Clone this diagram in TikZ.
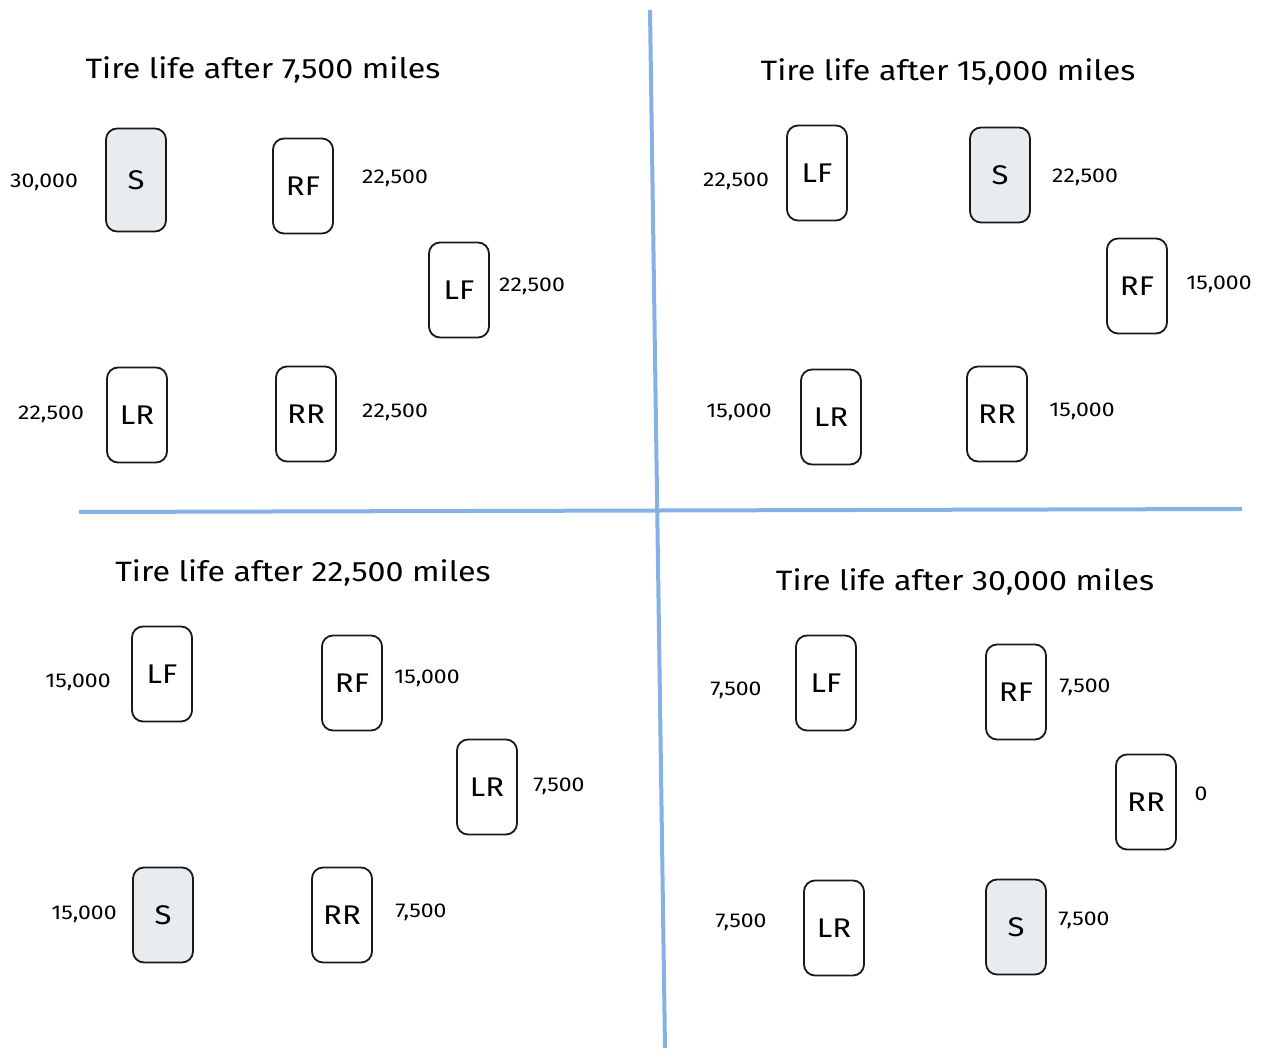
\documentclass[tikz,border=0pt]{standalone}
\usepackage{fontspec}
\setmainfont{Fira Sans}[FakeStretch=1.15]
\definecolor{divblue}{RGB}{133,178,226}
\definecolor{sparegray}{RGB}{233,236,239}
\begin{document}
\begin{tikzpicture}[x=1pt,y=-1pt,
  tire/.style={draw=black!90, line width=1.8pt, rounded corners=11pt, minimum width=60pt, minimum height=95pt, inner sep=0pt, font=\fontsize{27}{30}\selectfont},
  spare/.style={tire, fill=sparegray},
  miles/.style={font=\fontsize{20}{24}\selectfont, inner sep=0pt},
  title/.style={font=\fontsize{28}{32}\selectfont, inner sep=0pt},
  divider/.style={draw=divblue, line width=4pt}]
\useasboundingbox (0,0) rectangle (1262,1059);
% Quadrant 1
\node[title] (t1) at (263,70) {Tire life after 7,500 miles};
\node[spare, minimum height=103pt] (s1) at (136,180) {S};
\node[tire] (rf1) at (303,186) {RF};
\node[tire] (lf1) at (459,290) {LF};
\node[tire] (lr1) at (137,415) {LR};
\node[tire] (rr1) at (306,414) {RR};
\node[miles] (ms1) at (44,182) {30,000};
\node[miles] (mrf1) at (395,178) {22,500};
\node[miles] (mlf1) at (532,286) {22,500};
\node[miles] (mlr1) at (51,414) {22,500};
\node[miles] (mrr1) at (395,412) {22,500};
% Quadrant 2
\node[title] (t2) at (948,72) {Tire life after 15,000 miles};
\node[tire] (lf2) at (817,173) {LF};
\node[spare] (s2) at (1000,175) {S};
\node[tire] (rf2) at (1137,286) {RF};
\node[tire] (lr2) at (831,417) {LR};
\node[tire] (rr2) at (997,414) {RR};
\node[miles] (mlf2) at (736,181) {22,500};
\node[miles] (ms2) at (1085,177) {22,500};
\node[miles] (mrf2) at (1219,284) {15,000};
\node[miles] (mlr2) at (739,412) {15,000};
\node[miles] (mrr2) at (1082,411) {15,000};
% Quadrant 3
\node[title] (t3) at (303,573) {Tire life after 22,500 miles};
\node[tire] (lf3) at (162,674) {LF};
\node[tire] (rf3) at (352,683) {RF};
\node[tire] (lr3) at (487,787) {LR};
\node[spare] (s3) at (163,915) {S};
\node[tire] (rr3) at (342,915) {RR};
\node[miles] (mlf3) at (78,682) {15,000};
\node[miles] (mrf3) at (427,678) {15,000};
\node[miles] (mlr3) at (559,786) {7,500};
\node[miles] (ms3) at (84,914) {15,000};
\node[miles] (mrr3) at (421,912) {7,500};
% Quadrant 4
\node[title] (t4) at (965,582) {Tire life after 30,000 miles};
\node[tire] (lf4) at (826,683) {LF};
\node[tire] (rf4) at (1016,692) {RF};
\node[tire] (rr4) at (1146,802) {RR};
\node[tire] (lr4) at (834,928) {LR};
\node[spare] (s4) at (1016,927) {S};
\node[miles] (mlf4) at (736,690) {7,500};
\node[miles] (mrf4) at (1085,687) {7,500};
\node[miles] (mrr4) at (1201,794) {0};
\node[miles] (mlr4) at (741,922) {7,500};
\node[miles] (ms4) at (1084,920) {7,500};
% Dividers
\coordinate (vtop) at (650,10);
\coordinate (vbot) at (665,1048);
\coordinate (hl) at (79,512);
\coordinate (hr) at (1242,509);
\draw[divider] (vtop) -- (vbot);
\draw[divider] (hl) -- (hr);
\end{tikzpicture}
\end{document}
